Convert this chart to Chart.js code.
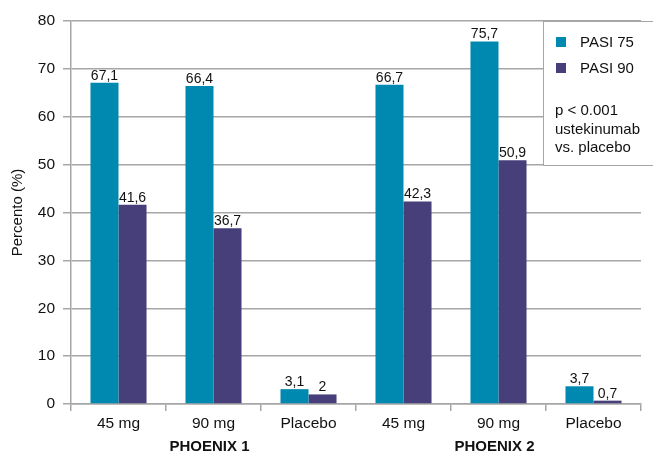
<!DOCTYPE html>
<html>
<head>
  <meta charset="UTF-8">
  <title>PHOENIX</title>
  <style>
    body { margin: 0; background: #fff; }
    #wrap { width: 653px; height: 454px; }
  </style>
  <script src="https://cdn.jsdelivr.net/npm/chart.js@4/dist/chart.umd.min.js"></script>
</head>
<body>
  <div id="wrap"><canvas id="bar"></canvas></div>

  <script>
    // data
    var doses = ["45 mg", "90 mg", "Placebo", "45 mg", "90 mg", "Placebo"];
    var studies = ["PHOENIX 1", "PHOENIX 2"];
    var pasi75 = [67.1, 66.4, 3.1, 66.7, 75.7, 3.7];
    var pasi90 = [41.6, 36.7, 2, 42.3, 50.9, 0.7];
    var yTicks = [0, 10, 20, 30, 40, 50, 60, 70, 80];
    var noteLines = ["p < 0.001", "ustekinumab", "vs. placebo"];

    var FONT = "'Liberation Sans', Arial, sans-serif";
    var GRID = "#a6a6a6";

    // numbers above the bars, with decimal comma
    var valueLabels = {
      id: "valueLabels",
      afterDatasetsDraw: function (chart) {
        var ctx = chart.ctx;
        ctx.save();
        ctx.font = "14px " + FONT;
        ctx.fillStyle = "#111";
        ctx.textAlign = "center";
        ctx.textBaseline = "bottom";
        chart.data.datasets.forEach(function (ds, i) {
          chart.getDatasetMeta(i).data.forEach(function (bar, j) {
            ctx.fillText(String(ds.data[j]).replace(".", ","), bar.x, bar.y);
          });
        });
        ctx.restore();
      }
    };

    // study names under the dose labels + legend box
    var extras = {
      id: "extras",
      afterDraw: function (chart) {
        var ctx = chart.ctx;
        var x = chart.scales.x;
        ctx.save();
        ctx.font = "bold 15px " + FONT;
        ctx.fillStyle = "#111";
        ctx.textAlign = "center";
        ctx.textBaseline = "middle";
        studies.forEach(function (s, k) {
          var a = x.getPixelForValue(k * 3);
          var b = x.getPixelForValue(k * 3 + 2);
          ctx.fillText(s, (a + b) / 2 - 4, 447);
        });

        // legend box
        var bx = 543.5, by = 21.5, bw = 120, bh = 144;
        ctx.fillStyle = "#fff";
        ctx.fillRect(bx, by, bw, bh);
        ctx.strokeStyle = GRID;
        ctx.lineWidth = 1;
        ctx.strokeRect(bx, by, bw, bh);

        ctx.font = "15px " + FONT;
        ctx.textAlign = "left";
        chart.data.datasets.forEach(function (ds, i) {
          var yy = 42 + i * 26;
          ctx.fillStyle = ds.backgroundColor;
          ctx.fillRect(556, yy - 5, 10, 10);
          ctx.fillStyle = "#111";
          ctx.fillText(ds.label, 580, yy + 1);
        });
        noteLines.forEach(function (t, i) {
          ctx.fillText(t, 555, 111 + i * 18.5);
        });
        ctx.restore();
      }
    };

    new Chart("bar", {
      type: "bar",
      data: {
        labels: doses,
        datasets: [
          { label: "PASI 75", data: pasi75, backgroundColor: "#0089b0" },
          { label: "PASI 90", data: pasi90, backgroundColor: "#463f7a" }
        ]
      },
      options: {
        responsive: true,
        maintainAspectRatio: false,
        animation: false,
        categoryPercentage: 0.59,
        barPercentage: 1,
        layout: { padding: { top: 21, right: 12, bottom: 0, left: 0 } },
        plugins: {
          legend: { display: false },
          tooltip: { enabled: false }
        },
        scales: {
          x: {
            grid: { drawOnChartArea: false, color: GRID, tickLength: 7, lineWidth: 1.5 },
            border: { color: GRID, width: 1.5 },
            ticks: { color: "#111", font: { family: FONT, size: 15.5 }, padding: 3 },
            afterFit: function (s) { s.height = 50; }
          },
          y: {
            min: 0,
            max: 80,
            afterBuildTicks: function (s) { s.ticks = yTicks.map(function (v) { return { value: v }; }); },
            grid: { color: GRID, tickLength: 8, lineWidth: 1.5 },
            border: { color: GRID, width: 1.5 },
            ticks: { color: "#111", font: { family: FONT, size: 15.5 }, padding: 8 },
            title: { display: true, text: "Percento (%)", color: "#111", font: { family: FONT, size: 15 }, padding: { top: 9, bottom: 2 } },
            afterFit: function (s) { s.width = 71; }
          }
        }
      },
      plugins: [valueLabels, extras]
    });
  </script>
</body>
</html>
